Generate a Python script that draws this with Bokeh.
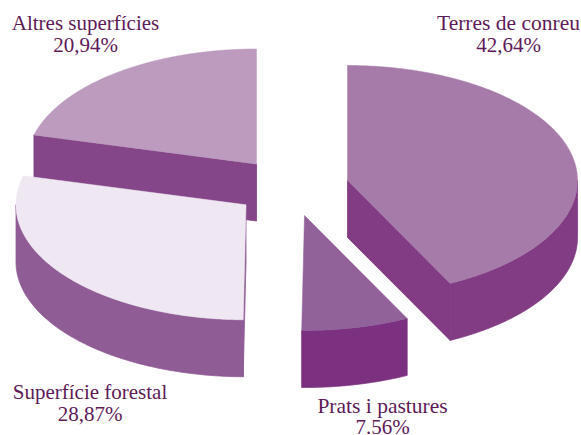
import numpy as np
from bokeh.core.properties import value
from bokeh.embed import file_html
from bokeh.models import Range1d
from bokeh.plotting import figure
from bokeh.resources import INLINE

# Data
categories = ["Terres de conreu", "Prats i pastures", "Superfície forestal", "Altres superfícies"]
percent_values = [42.64, 7.56, 28.87, 20.94]
percent_labels = ["42,64%", "7.56%", "28,87%", "20,94%"]

# Layout
RX, RY, DEPTH = 230.0, 115.0, 57.0
CX, CY = 300.0, 190.0
explode_dx = [47.0, 4.0, -54.5, -44.0]
explode_dy = [-10.0, 25.0, 14.3, -26.5]
top_colors = ["#A67BA9", "#91619A", "#EFE8F2", "#BC9BBF"]
wall_colors = ["#813C84", "#7B317F", "#905C96", "#844688"]
draw_order = [3, 0, 2, 1]
label_x = [508, 382, 89.5, 85]
label_y1 = [22.5, 405.5, 391.5, 22.5]
label_y2 = [44, 426.5, 413, 44]
TEXT_COLOR = "#5E1A59"
FONT = "Liberation Serif"
name_sizes = ["21.5px", "21.5px", "21px", "21px"]
PCT_SIZE = "21px"

x_range = Range1d(0, 581)
y_range = Range1d(435, 0)
p = figure(width=581, height=435, x_range=x_range, y_range=y_range,
           output_backend="svg", toolbar_location=None, min_border=0,
           outline_line_color=None, background_fill_color="white", border_fill_color="white")
p.axis.visible = False
p.grid.visible = False

ends = np.cumsum(percent_values) / np.sum(percent_values) * 2 * np.pi
starts = np.concatenate([[0.0], ends[:-1]])


def pt(cx, cy, a):
    return cx + RX * np.sin(a), cy - RY * np.cos(a)


for i in draw_order:
    cx, cy = CX + explode_dx[i], CY + explode_dy[i]
    wall = dict(fill_color=wall_colors[i], line_color=wall_colors[i], line_width=0.8)
    # radial walls that face the viewer
    for ang, visible in ((starts[i], np.sin(starts[i]) < -1e-6), (ends[i], np.sin(ends[i]) > 1e-6)):
        if visible:
            ex, ey = pt(cx, cy, ang)
            p.patch([cx, ex, ex, cx], [cy, ey, ey + DEPTH, cy + DEPTH], **wall)
    # outer wall: only the front half of the ellipse
    lo, hi = max(starts[i], np.pi / 2), min(ends[i], 3 * np.pi / 2)
    if hi > lo:
        w = np.linspace(lo, hi, 160)
        wx, wy = pt(cx, cy, w)
        p.patch(np.r_[wx, wx[::-1]], np.r_[wy, wy[::-1] + DEPTH], **wall)
    # top face
    a = np.linspace(starts[i], ends[i], 200)
    ax, ay = pt(cx, cy, a)
    p.patch(np.r_[cx, ax], np.r_[cy, ay], fill_color=top_colors[i], line_color=top_colors[i], line_width=0.5)

for i in range(len(categories)):
    p.text([label_x[i]], [label_y1[i]], text=[categories[i]], text_align="center",
           text_baseline="middle", text_font=value(FONT), text_font_size=name_sizes[i],
           text_color=TEXT_COLOR)
    p.text([label_x[i]], [label_y2[i]], text=[percent_labels[i]], text_align="center",
           text_baseline="middle", text_font=value(FONT), text_font_size=PCT_SIZE,
           text_color=TEXT_COLOR)

open("out.html", "w").write(file_html(p, INLINE))
